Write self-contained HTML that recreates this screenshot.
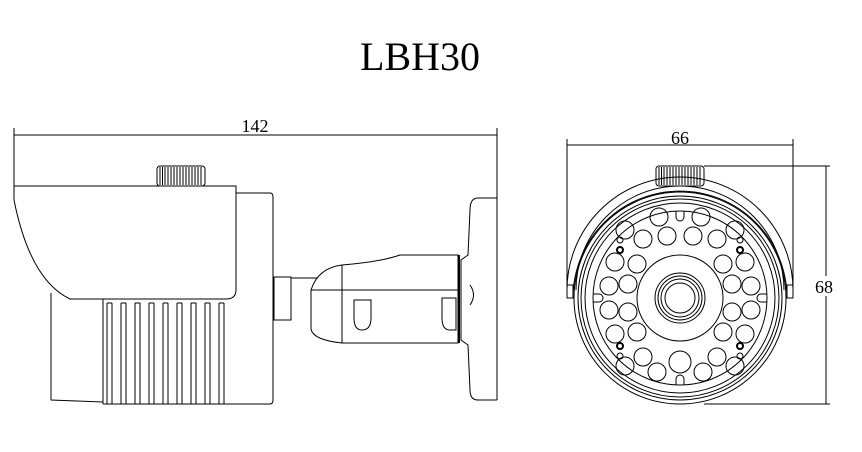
<!DOCTYPE html>
<html><head><style>body{margin:0;background:#fff}svg{display:block}text{font-family:"Liberation Serif",serif;fill:#000}</style></head><body>
<svg width="862" height="452" viewBox="0 0 862 452" xmlns="http://www.w3.org/2000/svg" fill="none" stroke="#000" stroke-width="1">
<text x="420" y="70" font-size="40" text-anchor="middle" stroke="none">LBH30</text>
<text x="255" y="132" font-size="18" text-anchor="middle" stroke="none">142</text>
<text x="680" y="144" font-size="18" text-anchor="middle" stroke="none">66</text>
<line x1="14" y1="135" x2="497" y2="135"/><line x1="14" y1="128" x2="14" y2="186"/><line x1="497" y1="128" x2="497" y2="400"/>
<g id="kn"><rect x="157" y="166" width="48" height="20" rx="3" fill="#fff"/>
<path d="M160 167v18M162.5 167v18M165 167v18M168 167v18M171 167v18M174 167v18M177 167v18M180 167v18M183 167v18M186 167v18M189 167v18M192 167v18M195 167v18M198 167v18M201 167v18"/></g>
<path d="M14 186H236V290Q236 299 226 299H70Q30 280 14 200Z"/>
<path d="M236 193H270Q273 193 273 197V400Q273 404 270 404H103"/>
<path d="M51 293V400L103 402V299M103 299V404"/>
<path d="M107 303v101M112 303v101M121 303v101M126 303v101M135 303v101M140 303v101M149 303v101M154 303v101M163 303v101M168 303v101M177 303v101M182 303v101M191 303v101M196 303v101M205 303v101M210 303v101M219 303v101M224 303v101"/>
<path d="M107 303h5M121 303h5M135 303h5M149 303h5M163 303h5M177 303h5M191 303h5M205 303h5M219 303h5"/>
<path d="M274 277H291V320H274ZM291 278H317"/>
<path d="M342 265Q318 268 311 290V329Q313 340 342 343H458V255H400Q380 262 342 265Z"/>
<line x1="342" y1="265" x2="342" y2="343"/><line x1="311" y1="290" x2="458" y2="290"/>
<path d="M354 300V318Q354 330 362 330Q371 330 371 318V300Z"/><path d="M442 298V318Q442 330 450 330H456V298Z"/>
<line x1="459" y1="255" x2="459" y2="343" stroke-width="2"/>
<path d="M497 198H478Q470 198 470 210L468 255 461 260V340L468 345 470 390Q470 400 478 400H497"/>
<path d="M470 285Q477 295 470 305"/>
<line x1="567" y1="145" x2="793" y2="145"/><line x1="567" y1="139" x2="567" y2="298"/><line x1="793" y1="139" x2="793" y2="298"/>
<line x1="704" y1="166" x2="830" y2="166"/><line x1="704" y1="404" x2="830" y2="404"/><line x1="826" y1="166" x2="826" y2="404"/>
<rect x="812" y="276" width="28" height="20" fill="#fff" stroke="none"/>
<text x="824" y="293" font-size="18" text-anchor="middle" stroke="none">68</text>
<use href="#kn" x="499" y="0"/>
<path d="M567 298V290A113 113 0 0 1 793 290V298"/>
<path d="M573 298A107 107 0 0 1 787 298"/>
<path d="M576 290A104 104 0 0 1 784 290"/>
<path d="M567 285H573V298H567ZM787 285H793V298H787Z"/>
<circle cx="680" cy="298" r="106"/><circle cx="680" cy="298" r="102"/><circle cx="680" cy="298" r="99"/><circle cx="680" cy="298" r="95"/>
<circle cx="680" cy="298" r="87"/><circle cx="680" cy="298" r="43"/>
<circle cx="680" cy="298" r="25"/><circle cx="680" cy="298" r="22"/><circle cx="680" cy="298" r="19"/><circle cx="680" cy="298" r="15"/>
<circle cx="643" cy="239" r="9"/><circle cx="667" cy="236" r="9"/><circle cx="693" cy="236" r="9"/><circle cx="717" cy="239" r="9"/>
<circle cx="659" cy="217" r="9"/><circle cx="701" cy="217" r="9"/>
<circle cx="625" cy="230" r="9"/><circle cx="735" cy="230" r="9"/>
<circle cx="615" cy="262" r="9"/><circle cx="745" cy="262" r="9"/>
<circle cx="637" cy="264" r="9"/><circle cx="723" cy="264" r="9"/>
<circle cx="609" cy="286" r="9"/><circle cx="751" cy="286" r="9"/>
<circle cx="628" cy="284" r="9"/><circle cx="732" cy="284" r="9"/>
<circle cx="628" cy="312" r="9"/><circle cx="732" cy="312" r="9"/>
<circle cx="609" cy="310" r="9"/><circle cx="751" cy="310" r="9"/>
<circle cx="615" cy="334" r="9"/><circle cx="745" cy="334" r="9"/>
<circle cx="637" cy="332" r="9"/><circle cx="723" cy="332" r="9"/>
<circle cx="625" cy="366" r="9"/><circle cx="735" cy="366" r="9"/>
<circle cx="643" cy="357" r="9"/><circle cx="717" cy="357" r="9"/>
<circle cx="657" cy="372" r="9"/><circle cx="703" cy="372" r="9"/>
<circle cx="680" cy="362" r="11"/>
<g stroke-width="2"><circle cx="620" cy="250" r="3"/><circle cx="740" cy="250" r="3"/><circle cx="620" cy="346" r="3"/><circle cx="740" cy="346" r="3"/></g>
<circle cx="620" cy="240" r="3"/><circle cx="740" cy="240" r="3"/><circle cx="620" cy="356" r="3"/><circle cx="740" cy="356" r="3"/>
<path d="M676 211v6a4 4 0 0 0 8 0v-6M676 385v-6a4 4 0 0 1 8 0v6M593 294h6a4 4 0 0 1 0 8h-6M767 294h-6a4 4 0 0 0 0 8h6"/>
</svg>
</body></html>
